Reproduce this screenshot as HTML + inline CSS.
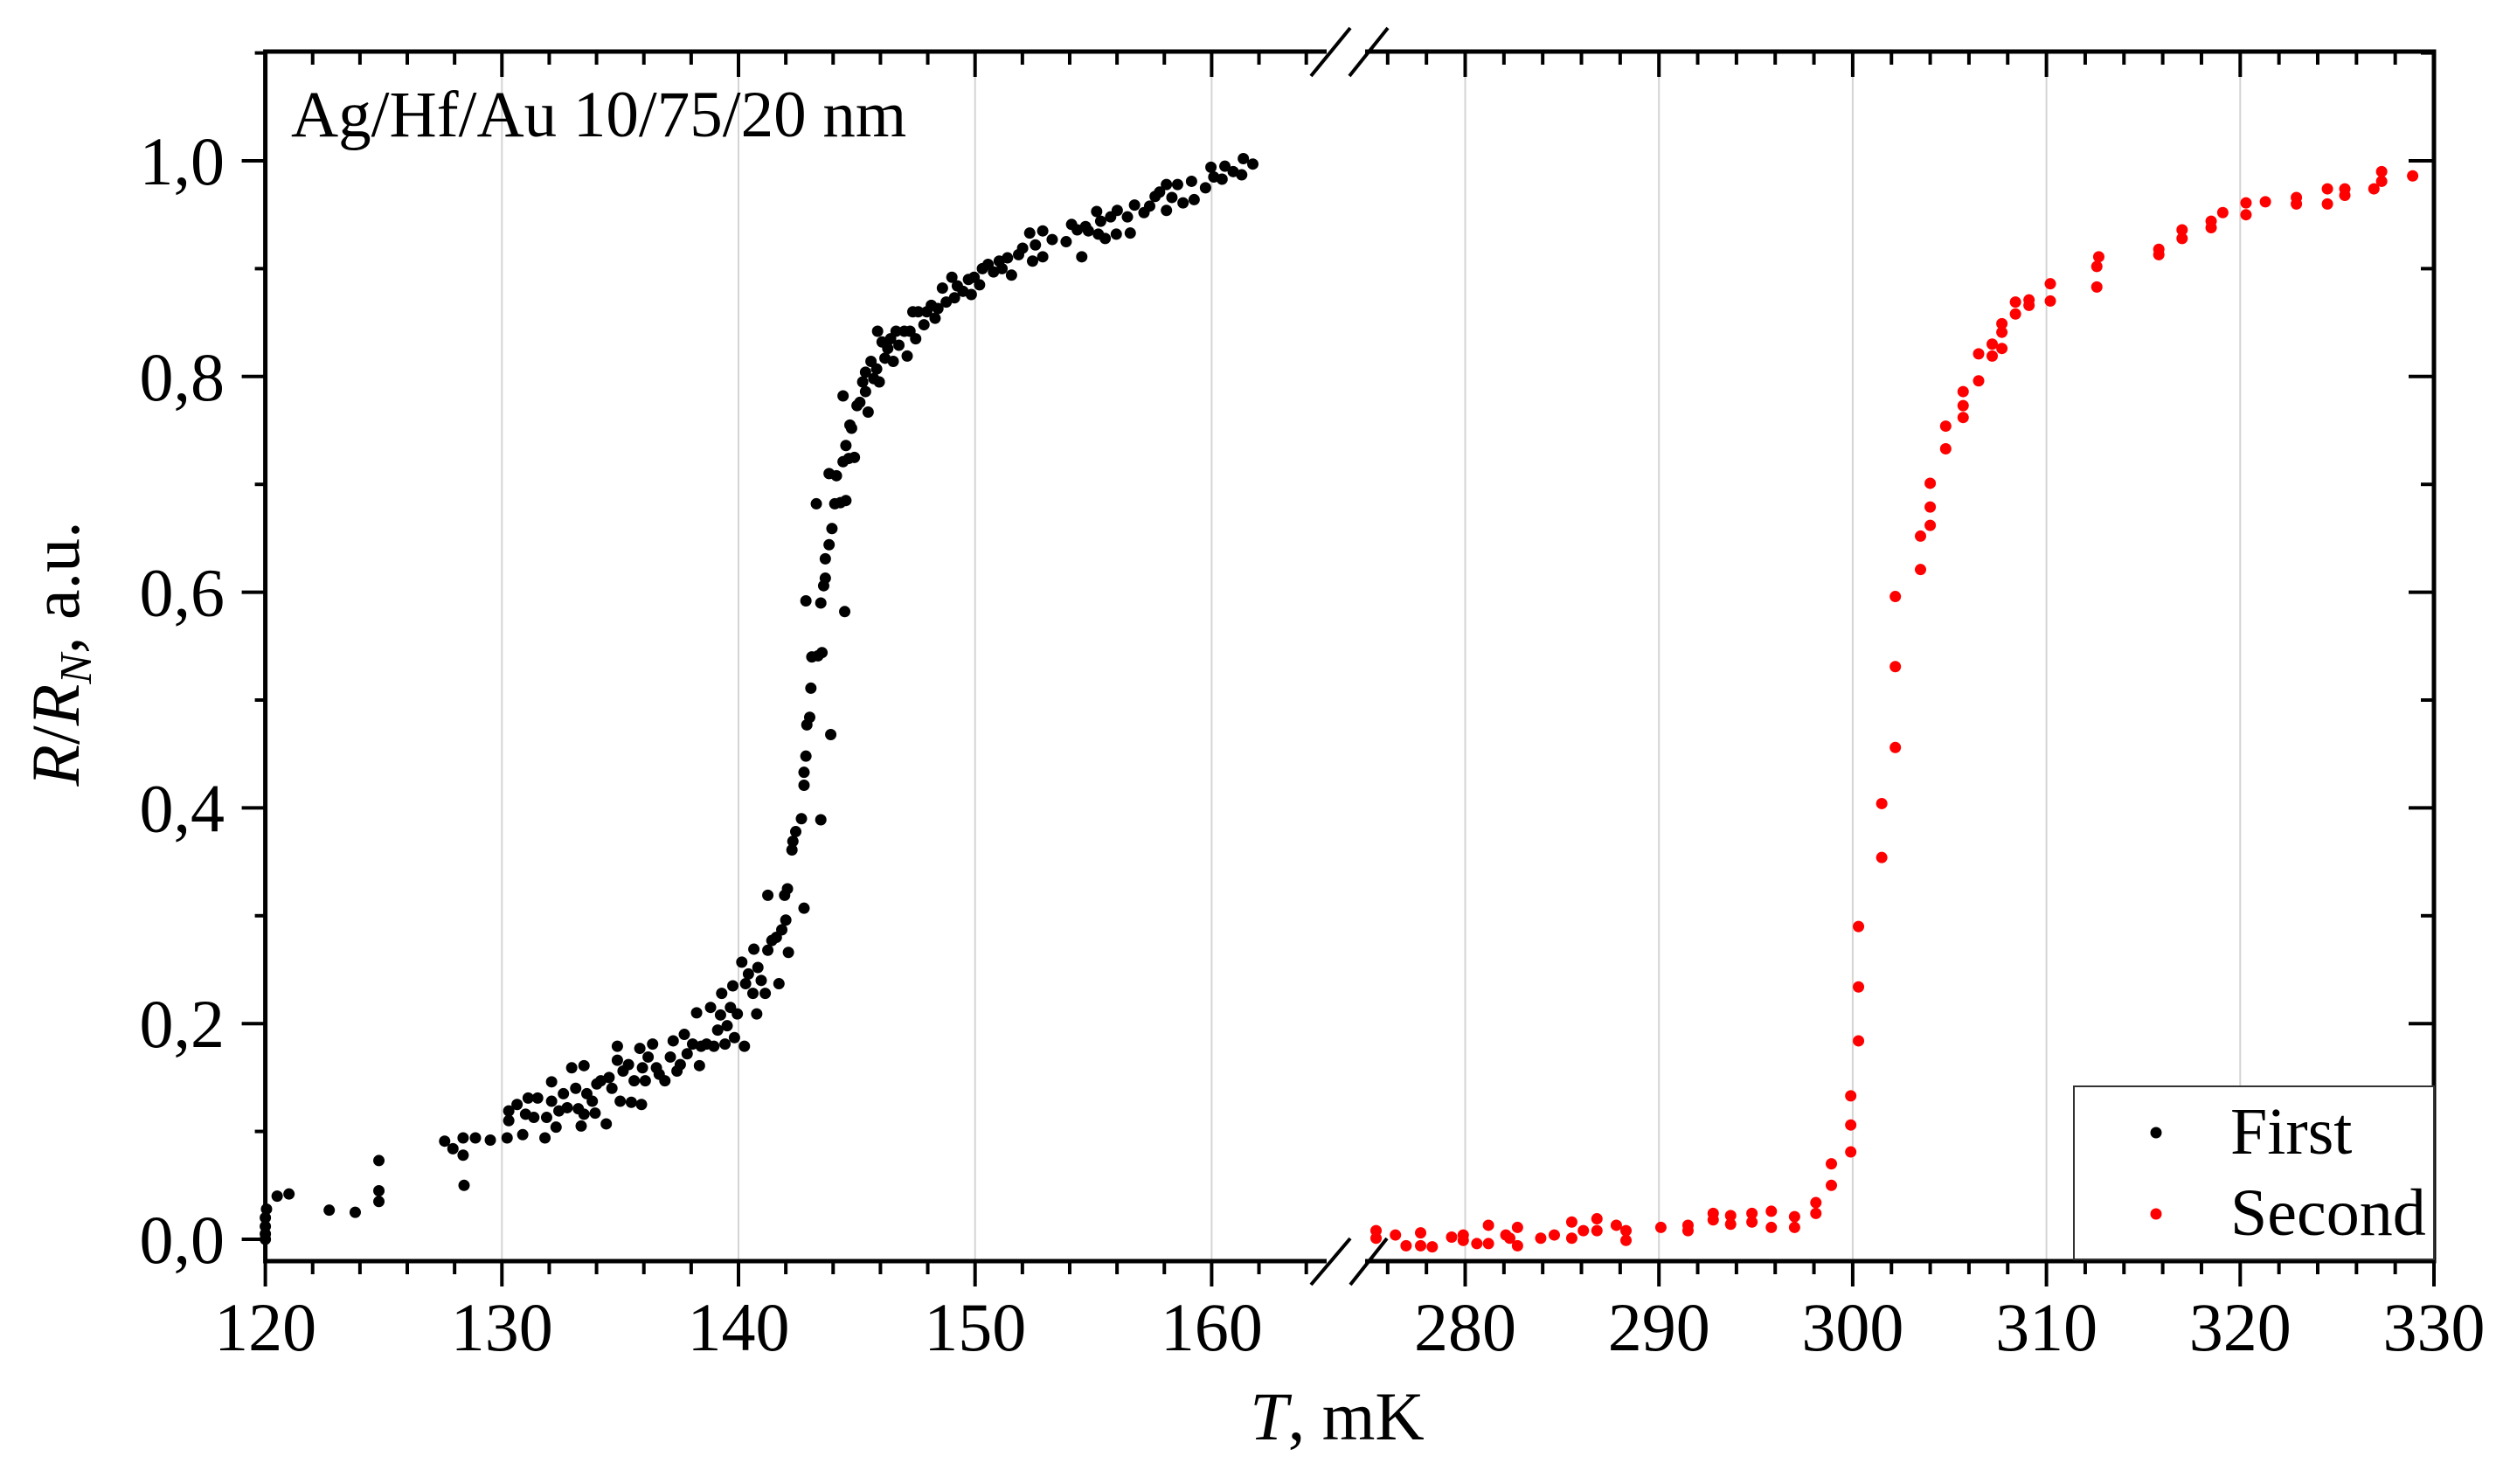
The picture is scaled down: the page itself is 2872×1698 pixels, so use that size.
<!DOCTYPE html>
<html>
<head>
<meta charset="utf-8">
<style>
html,body{margin:0;padding:0;background:#fff;}
svg{display:block;font-family:"Liberation Serif",serif;}
</style>
</head>
<body>
<svg id="chart" width="2872" height="1698" viewBox="0 0 2872 1698" xmlns="http://www.w3.org/2000/svg">
  <rect x="0" y="0" width="2872" height="1698" fill="#fff"/>
  <g id="grid"></g>
  <g id="points"></g>
  <g id="axes"></g>
  <g id="labels" font-size="78" fill="#000"></g>
  <text x="333" y="156" font-size="75">Ag/Hf/Au 10/75/20 nm</text>
  <text x="1530" y="1647" font-size="78" text-anchor="middle"><tspan font-style="italic">T</tspan>, mK</text>
  <text x="90" y="748" font-size="78" text-anchor="middle" transform="rotate(-90 90 748)"><tspan font-style="italic">R</tspan>/<tspan font-style="italic">R</tspan><tspan font-style="italic" font-size="52" dy="14">N</tspan><tspan dy="-14">, a.u.</tspan></text>
  <g>
    <rect x="2373" y="1243" width="412" height="198" fill="#fff" stroke="#333" stroke-width="2"/>
    <circle cx="2467" cy="1296" r="6.5" fill="#000"/>
    <text x="2552" y="1320" font-size="76">First</text>
    <circle cx="2467" cy="1389" r="6.5" fill="#ff0000"/>
    <text x="2552" y="1413" font-size="76">Second</text>
  </g>
</svg>
<script>
const firstT = [120.0,120.0,120.0,120.0,120.05,120.5,121.0,122.7,123.8,124.8,124.8,124.8,128.4,
127.58,127.93,128.36,128.36,128.88,129.51,130.22,130.29,130.29,130.64,130.88,131.0,131.11,131.35,131.51,131.82,131.89,132.10,132.10,132.29,132.41,132.6,132.76,132.95,133.12,133.23,133.35,133.47,133.47,133.59,133.82,133.94,134.01,134.18,134.41,134.53,134.65,134.88,134.88,135.0,135.12,135.35,135.47,135.59,135.83,135.9,135.94,136.06,136.18,136.37,136.53,136.65,136.89,137.12,137.24,137.40,137.54,137.71,137.83,138.06,138.23,138.35,138.42,138.65,138.82,138.96,139.12,139.24,139.29,139.43,139.52,139.66,139.76,139.83,139.95,140.14,140.25,140.3,140.42,140.61,140.65,140.77,140.82,140.96,141.13,141.24,141.24,141.41,141.6,141.71,141.83,141.95,142.0,142.07,142.11,142.26,142.3,142.42,142.66,142.77,142.77,142.77,142.85,142.89,143.01,143.06,143.1,142.85,143.29,143.36,143.48,143.53,143.6,143.67,143.67,143.48,143.83,143.9,143.95,144.07,144.31,144.49,144.54,143.83,144.14,144.42,144.54,144.66,144.78,144.9,144.71,144.42,145.01,145.13,145.25,145.37,145.48,145.37,145.6,145.72,145.84,145.95,145.88,146.07,146.19,146.31,146.43,146.54,146.66,146.78,147.01,147.13,147.25,147.37,147.49,147.6,147.84,147.96,148.15,148.31,148.43,148.62,148.78,149.02,149.13,149.25,149.49,149.72,149.84,149.96,150.19,150.31,150.55,150.78,151.02,151.14,151.37,151.54,151.84,152.01,152.31,152.43,152.55,152.86,152.86,153.26,153.85,154.08,154.32,154.51,154.67,154.79,155.14,155.21,155.31,155.5,155.73,155.97,156.01,156.44,156.56,156.74,157.14,157.38,157.61,157.8,158.09,158.09,158.32,158.56,158.79,159.15,159.26,159.74,159.97,160.09,160.44,160.56,160.91,161.27,161.34,161.74];
const firstR = [0.005,0.012,0.02,0.0,0.028,0.04,0.042,0.027,0.025,0.035,0.045,0.073,0.05,
0.091,0.084,0.094,0.078,0.094,0.092,0.094,0.110,0.119,0.125,0.097,0.116,0.131,0.113,0.131,0.094,0.113,0.146,0.128,0.104,0.119,0.135,0.122,0.159,0.140,0.121,0.105,0.161,0.116,0.135,0.128,0.117,0.144,0.147,0.107,0.150,0.140,0.179,0.166,0.128,0.156,0.162,0.127,0.147,0.177,0.125,0.159,0.147,0.169,0.181,0.159,0.153,0.147,0.169,0.184,0.156,0.162,0.190,0.172,0.181,0.210,0.161,0.179,0.181,0.215,0.179,0.194,0.208,0.228,0.181,0.198,0.215,0.235,0.187,0.209,0.257,0.179,0.237,0.246,0.228,0.269,0.209,0.252,0.240,0.228,0.319,0.268,0.277,0.280,0.237,0.287,0.319,0.296,0.325,0.266,0.361,0.369,0.378,0.390,0.307,0.421,0.433,0.448,0.477,0.484,0.511,0.540,0.592,0.682,0.541,0.590,0.544,0.606,0.613,0.631,0.389,0.644,0.468,0.659,0.682,0.683,0.582,0.685,0.710,0.708,0.721,0.736,0.724,0.752,0.725,0.755,0.782,0.773,0.776,0.795,0.786,0.767,0.804,0.814,0.798,0.807,0.795,0.842,0.832,0.817,0.826,0.835,0.814,0.842,0.829,0.842,0.819,0.842,0.860,0.835,0.860,0.848,0.860,0.866,0.854,0.863,0.882,0.869,0.892,0.873,0.884,0.879,0.890,0.876,0.892,0.885,0.900,0.904,0.897,0.907,0.900,0.910,0.894,0.913,0.919,0.933,0.907,0.922,0.935,0.911,0.927,0.925,0.941,0.936,0.911,0.939,0.935,0.953,0.932,0.944,0.928,0.948,0.932,0.954,0.948,0.933,0.959,0.952,0.958,0.967,0.971,0.978,0.954,0.966,0.978,0.961,0.981,0.964,0.975,0.994,0.985,0.983,0.995,0.990,0.987,1.002,0.997];
const secondT = [275.4,275.4,276.4,276.95,277.7,277.7,278.3,279.3,279.9,279.9,280.6,281.2,281.2,282.1,282.3,282.7,282.7,283.9,284.6,285.5,285.5,286.1,286.8,286.8,287.8,288.3,288.3,290.1,291.5,291.5,292.8,292.8,293.7,293.7,294.8,294.8,295.8,295.8,297.0,297.0,298.1,298.1,298.9,298.9,299.9,299.9,299.9,300.3,300.3,300.3,301.5,301.5,302.2,302.2,302.2,303.5,303.5,304.0,304.0,304.0,304.8,304.8,305.7,305.7,305.7,306.5,306.5,307.2,307.2,307.7,307.7,307.7,308.4,308.4,309.1,309.1,310.2,310.2,312.6,312.6,312.7,315.8,315.8,317.0,317.0,318.5,318.5,319.1,320.3,320.3,321.3,322.9,322.9,324.5,324.5,325.4,325.4,326.9,327.3,327.3,328.9];
const secondR = [0.008,0.001,0.004,-0.006,0.006,-0.006,-0.007,0.002,0.004,-0.001,-0.004,0.013,-0.004,0.004,0.001,0.011,-0.006,0.001,0.004,0.016,0.001,0.008,0.019,0.008,0.013,0.008,-0.001,0.011,0.013,0.008,0.024,0.018,0.022,0.014,0.024,0.016,0.026,0.011,0.021,0.011,0.034,0.024,0.070,0.050,0.133,0.106,0.081,0.29,0.234,0.184,0.404,0.354,0.596,0.531,0.456,0.652,0.621,0.701,0.679,0.662,0.754,0.733,0.786,0.773,0.762,0.821,0.796,0.830,0.819,0.849,0.841,0.826,0.869,0.858,0.871,0.866,0.886,0.870,0.902,0.883,0.911,0.918,0.913,0.936,0.928,0.944,0.938,0.952,0.961,0.950,0.962,0.966,0.960,0.974,0.960,0.974,0.968,0.974,0.990,0.981,0.986];
const xTicks1 = [120,130,140,150,160];
const xTicks2 = [280,290,300,310,320,330];
const yTicks = [0.0,0.2,0.4,0.6,0.8,1.0];
const yTickLabels = ["0,0","0,2","0,4","0,6","0,8","1,0"];

const NS = "http://www.w3.org/2000/svg";
const L = 303.6, R = 2785, TOP = 59, BOT = 1443;
const BRK1 = 1518, BRK2 = 1562;
function xScale(t){ return t < 200 ? L + (t-120)*27.07 : R - (330-t)*22.17; }
function yScale(v){ return 1418 - v*1234; }
function mk(tag, attrs, parent){
  const e = document.createElementNS(NS, tag);
  for (const k in attrs) e.setAttribute(k, attrs[k]);
  parent.appendChild(e);
  return e;
}
const grid = document.getElementById('grid');
const axes = document.getElementById('axes');
const labels = document.getElementById('labels');
const pts = document.getElementById('points');

[...xTicks1, ...xTicks2].forEach(t => {
  const x = xScale(t);
  if (x <= L+2 || x >= R-2) return;
  const g = mk('line', {x1:x, x2:x, y1:TOP, y2:BOT, stroke:'#d4d4d4', 'stroke-width':2}, grid);
  
  
});

firstT.forEach((t,i) => {
  const c = mk('circle', {cx:xScale(t), cy:yScale(firstR[i]), r:6.5, fill:'#000'}, pts);
  
  
});
secondT.forEach((t,i) => {
  const c = mk('circle', {cx:xScale(t), cy:yScale(secondR[i]), r:6.5, fill:'#ff0000'}, pts);
  
  
});

function line(x1,y1,x2,y2,w,name){
  const e = mk('line', {x1:x1,y1:y1,x2:x2,y2:y2,stroke:'#000','stroke-width':w}, axes);
  
  
  return e;
}
line(L, TOP-2.5, L, BOT+2.5, 5, 'y-axis-left');
line(R, TOP-2.5, R, BOT+2.5, 5, 'y-axis-right');
line(L, BOT, BRK1, BOT, 5, 'x-axis-bottom-left');
line(BRK2, BOT, R, BOT, 5, 'x-axis-bottom-right');
line(L, TOP, BRK1, TOP, 5, 'x-axis-top-left');
line(BRK2, TOP, R, TOP, 5, 'x-axis-top-right');
line(1500,1470,1545,1417,4,'axis-break-mark');
line(1545,1470,1587,1417,4,'axis-break-mark');
line(1500,87,1545,32,4,'axis-break-mark');
line(1544,87,1588,32,4,'axis-break-mark');

function xTick(t, major){
  const x = xScale(t);
  line(x, BOT, x, BOT + (major?29:15), 4, major?'x-major-tick':'x-minor-tick');
  line(x, TOP, x, TOP + (major?29:15), 4, major?'x-major-tick-top':'x-minor-tick-top');
}
for (let t=120; t<=164; t+=2) xTick(t, t%10===0);
for (let t=276; t<=330; t+=2) xTick(t, t%10===0);
for (let k=0; k<=11; k++){
  const v = k/10, y = yScale(v), major = k%2===0;
  line(L - (major?27:12), y, L, y, 4, major?'y-major-tick':'y-minor-tick');
  line(R - (major?29:15), y, R, y, 4, major?'y-major-tick-right':'y-minor-tick-right');
}
xTicks1.concat(xTicks2).forEach(t => {
  const e = mk('text', {x:xScale(t), y:1545, 'text-anchor':'middle'}, labels);
  e.textContent = String(t);
  
  
});
yTicks.forEach((v,i) => {
  const e = mk('text', {x:257, y:yScale(v)+27, 'text-anchor':'end'}, labels);
  e.textContent = yTickLabels[i];
  
  
});
</script>
</body>
</html>
